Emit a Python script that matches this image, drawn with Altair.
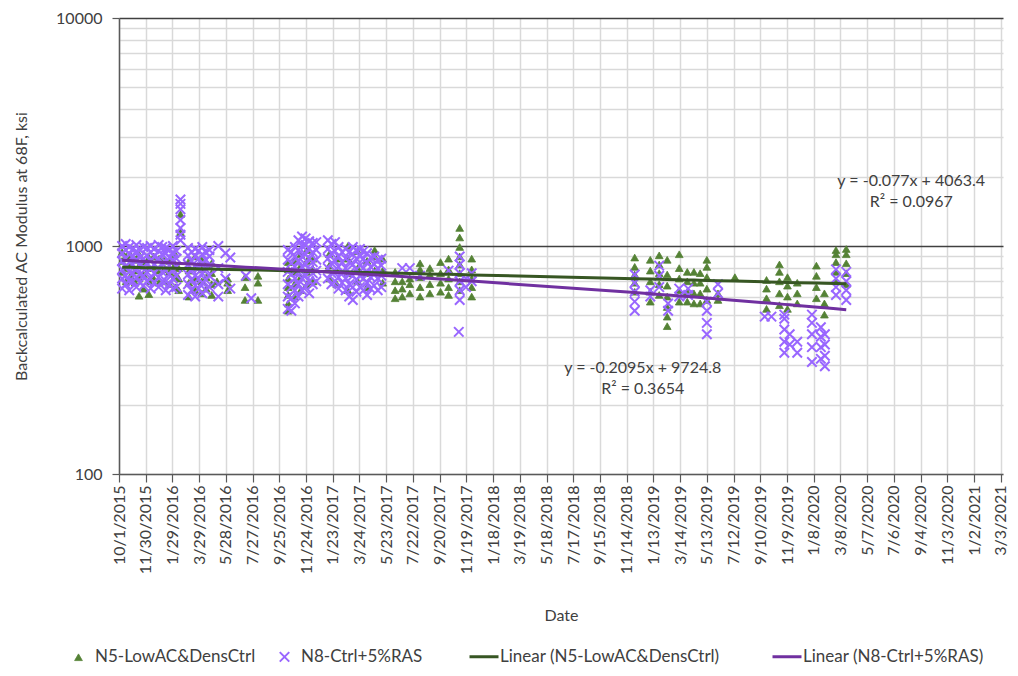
import altair as alt
import pandas as pd
from datetime import date, datetime

# ---------------- data ----------------
N5_NAME = "N5-LowAC&DensCtrl"
N8_NAME = "N8-Ctrl+5%RAS"
T5_NAME = "Linear (N5-LowAC&DensCtrl)"
T8_NAME = "Linear (N8-Ctrl+5%RAS)"

N5_DATES = [
    "2015-10-08", "2015-10-17", "2015-10-27", "2015-11-06", "2015-11-15", "2015-11-25",
    "2015-12-07", "2015-12-18", "2015-12-30", "2016-01-11", "2016-01-22", "2016-02-04",
    "2016-02-12", "2016-02-16", "2016-03-06", "2016-03-20", "2016-04-04", "2016-04-14",
    "2016-04-26", "2016-05-08", "2016-06-01", "2016-07-10", "2016-08-08",
    "2016-10-15", "2016-10-29", "2016-11-12", "2016-11-26", "2016-12-10",
    "2017-01-15", "2017-02-01", "2017-02-26", "2017-03-20", "2017-04-10", "2017-04-27",
    "2017-05-15", "2017-06-12", "2017-06-28", "2017-07-15", "2017-08-07", "2017-08-29",
    "2017-09-22", "2017-10-10", "2017-11-04", "2017-12-01",
    "2018-12-02", "2019-01-06", "2019-01-26", "2019-02-13", "2019-03-12", "2019-03-30",
    "2019-04-14", "2019-04-28", "2019-05-13", "2019-06-07", "2019-07-15",
    "2019-09-24", "2019-10-23", "2019-11-10", "2019-12-02", "2020-01-14", "2020-02-01",
    "2020-02-27", "2020-03-21",
]
N5_VALUES = [
    [770, 860, 940], [700, 800, 900], [740, 830, 910], [690, 780, 870], [605, 720, 820, 920],
    [650, 750, 850], [615, 700, 800, 890], [720, 810, 900], [690, 780, 880], [700, 790, 870],
    [680, 770, 860], [660, 740, 830, 920], [640, 720, 800], [1150, 1380],
    [600, 690, 780, 860], [640, 720, 810, 900], [620, 700, 790, 870], [650, 730, 820],
    [610, 680, 760, 840], [700], [640, 690, 720], [580, 660, 730], [580, 690, 740],
    [520, 560, 610, 660, 720, 790, 850], [600, 680, 770, 860], [640, 730, 820, 920],
    [680, 770, 860, 960], [700, 790, 880],
    [720, 820, 920], [680, 780, 880], [640, 760, 880, 1000], [700, 800, 950], [660, 760, 860],
    [780, 900, 960], [690, 780, 880], [590, 640, 700, 770], [600, 650, 700], [620, 680, 720],
    [600, 660, 730, 790, 840], [620, 680, 750, 800], [630, 690, 760, 850],
    [610, 660, 720, 790, 880], [640, 700, 760, 830, 900, 990, 1090, 1200],
    [600, 660, 720, 790, 880],
    [630, 690, 750, 810, 890], [570, 630, 700, 780, 870], [610, 680, 760, 830, 910],
    [445, 490, 540, 600, 670, 750, 870], [570, 640, 720, 800, 920], [570, 630, 700, 770],
    [560, 620, 690, 770], [560, 620, 690, 760], [580, 650, 730, 810, 870], [580, 620], [730],
    [530, 590, 650, 710], [550, 620, 700, 770, 830], [530, 600, 670, 730], [560, 620, 690],
    [590, 660, 740, 820], [500, 560, 620], [700, 770, 850, 920, 960], [680, 760, 840, 920, 970],
]

N8_DATES = [
    "2015-10-08", "2015-10-16", "2015-10-24", "2015-11-01", "2015-11-09", "2015-11-17",
    "2015-11-25", "2015-12-03", "2015-12-11", "2015-12-19", "2015-12-29", "2016-01-06",
    "2016-01-14", "2016-01-22", "2016-01-30", "2016-02-07", "2016-02-16",
    "2016-03-04", "2016-03-12", "2016-03-20", "2016-03-28", "2016-04-05", "2016-04-13",
    "2016-04-21", "2016-05-11", "2016-05-27", "2016-06-07", "2016-07-12", "2016-07-24",
    "2016-10-14", "2016-10-22", "2016-10-30", "2016-11-07", "2016-11-15", "2016-11-23",
    "2016-12-01", "2016-12-09", "2016-12-17",
    "2017-01-12", "2017-01-20", "2017-01-28", "2017-02-05", "2017-02-13", "2017-02-21",
    "2017-03-01", "2017-03-09", "2017-03-17", "2017-03-25", "2017-04-02", "2017-04-10",
    "2017-04-18", "2017-04-26", "2017-05-04", "2017-05-12",
    "2017-06-28", "2017-07-15", "2017-08-07", "2017-10-10", "2017-11-02", "2017-11-04",
    "2017-11-18", "2017-12-01",
    "2018-12-02", "2019-01-06", "2019-01-26", "2019-02-15", "2019-03-12", "2019-04-01",
    "2019-05-13", "2019-06-07", "2019-09-20", "2019-10-05", "2019-11-03", "2019-11-15",
    "2019-12-02", "2020-01-04", "2020-01-24", "2020-02-02", "2020-02-27", "2020-03-21",
]
N8_VALUES = [
    [650, 720, 790, 860, 930, 1000], [680, 740, 810, 880, 960, 1020], [640, 700, 770, 850, 920, 990],
    [700, 760, 830, 900, 970], [660, 730, 800, 870, 950, 1010], [690, 750, 820, 890, 960],
    [670, 740, 810, 880, 990], [700, 770, 840, 910, 980], [650, 720, 790, 860, 940, 1000],
    [690, 760, 830, 900, 970], [660, 730, 800, 880, 950, 1010], [700, 770, 840, 920, 990],
    [640, 700, 780, 850, 930, 980], [680, 750, 820, 890, 960], [650, 720, 790, 870, 940, 1000],
    [660, 740, 810, 880, 950], [1060, 1120, 1200, 1300, 1450, 1530, 1600],
    [610, 680, 750, 830, 910, 980], [640, 710, 790, 860, 940], [600, 670, 740, 820, 900, 970],
    [650, 720, 800, 880, 950], [620, 690, 760, 840, 920, 990], [640, 710, 790, 870, 940],
    [660, 740, 820, 900, 960], [600, 680, 800, 1000], [720, 930], [650, 890], [740], [590],
    [530, 600, 680, 770, 870, 960], [520, 590, 660, 750, 840, 940], [560, 640, 720, 810, 900, 990],
    [600, 680, 770, 860, 960, 1060], [640, 720, 810, 900, 1000, 1100], [660, 740, 830, 920, 1010, 1080],
    [620, 700, 790, 880, 970, 1050], [680, 760, 850, 940, 1030], [700, 780, 870, 960, 1040],
    [720, 800, 880, 970, 1060], [680, 760, 840, 930, 1020], [700, 780, 860, 950, 1040],
    [650, 730, 810, 900, 990], [690, 770, 850, 940], [640, 720, 800, 880, 970],
    [600, 680, 760, 850, 940], [580, 660, 740, 830, 920, 990], [630, 710, 790, 880, 960],
    [660, 740, 820, 900, 970], [640, 720, 800, 880, 950], [610, 690, 770, 850, 930],
    [650, 730, 810, 890], [670, 750, 830, 900], [640, 720, 800, 870], [660, 740, 820, 880],
    [800], [800], [740], [780], [420], [580, 640, 700, 760, 830, 900], [660, 720], [700, 760],
    [520, 570, 630, 690, 750], [600, 640], [660, 740, 820], [520, 560], [600, 650], [610, 650],
    [410, 460, 520, 570], [620, 680], [490], [490], [340, 380, 430, 480, 500], [370, 410],
    [340, 380], [310, 360, 410, 460, 500], [320, 360, 400, 440], [297, 330, 370, 410],
    [610, 660, 720, 790], [580, 640, 700, 770],
]

# trendline equations shown on the chart (x = Excel serial date)
TREND_SLOPES = [-0.077, -0.2095]
TREND_INTERCEPTS = [4063.4, 9724.8]

TICK_LABELS = [
    "10/1/2015", "11/30/2015", "1/29/2016", "3/29/2016", "5/28/2016", "7/27/2016",
    "9/25/2016", "11/24/2016", "1/23/2017", "3/24/2017", "5/23/2017", "7/22/2017",
    "9/20/2017", "11/19/2017", "1/18/2018", "3/19/2018", "5/18/2018", "7/17/2018",
    "9/15/2018", "11/14/2018", "1/13/2019", "3/14/2019", "5/13/2019", "7/12/2019",
    "9/10/2019", "11/9/2019", "1/8/2020", "3/8/2020", "5/7/2020", "7/6/2020",
    "9/4/2020", "11/3/2020", "1/2/2021", "3/3/2021",
]
Y_GRID = [100, 200, 300, 400, 500, 600, 700, 800, 900,
          1000, 2000, 3000, 4000, 5000, 6000, 7000, 8000, 9000, 10000]

ANN_TEXT = ["y = -0.077x + 4063.4", "R\u00b2 = 0.0967", "y = -0.2095x + 9724.8", "R\u00b2 = 0.3654"]
ANN_DATE = ["2020-08-14", "2020-08-14", "2018-12-20", "2018-12-20"]
ANN_VALUE = [1937, 1553, 292, 237]

# ---------------- helpers ----------------
EPOCH = date(1899, 12, 30)


def serial_iso(s):
    y, m, d = map(int, s.split("-"))
    return (date(y, m, d) - EPOCH).days


def serial_mdy(s):
    return (datetime.strptime(s, "%m/%d/%Y").date() - EPOCH).days


C5, C8, CT5, CT8 = "#548235", "#9966ff", "#375623", "#7030a0"
PDOM = [N5_NAME, N8_NAME]
TDOM = [T5_NAME, T8_NAME]
XPATH = "M-1,-1L1,1M1,-1L-1,1"
LINEPATH = "M-3.75,0L3.5,0"
FONT = "Lato"
TXT = "#404040"
LEG_Y = 630

rows = [{"x": serial_iso(d), "v": v, "series": N5_NAME}
        for d, vals in zip(N5_DATES, N5_VALUES) for v in vals]
rows += [{"x": serial_iso(d), "v": v, "series": N8_NAME}
         for d, vals in zip(N8_DATES, N8_VALUES) for v in vals]
dfp = pd.DataFrame(rows)

trend_rows = []
for name, dates, a, b in [(T5_NAME, N5_DATES, TREND_SLOPES[0], TREND_INTERCEPTS[0]),
                          (T8_NAME, N8_DATES, TREND_SLOPES[1], TREND_INTERCEPTS[1])]:
    xs = sorted(set(serial_iso(d) for d in dates))
    for x in xs:
        trend_rows.append({"x": x, "v": a * x + b, "series": name})
dft = pd.DataFrame(trend_rows)

dfa = pd.DataFrame({"x": [serial_iso(d) for d in ANN_DATE], "v": ANN_VALUE, "t": ANN_TEXT})

tick_vals = [serial_mdy(s) for s in TICK_LABELS]
x_domain = [tick_vals[0], tick_vals[-1] + 5]


def pleg():
    return alt.Legend(
        title=None, orient="none", legendX=-49, legendY=LEG_Y, direction="horizontal",
        columns=2, columnPadding=19, labelFont=FONT, labelFontSize=17, labelColor=TXT,
        labelOffset=8, labelLimit=400, symbolOpacity=1,
    )


def oscale(rng):
    return alt.Scale(type="ordinal", domain=PDOM, range=rng)


fill_enc = alt.Fill("series:N", scale=alt.Scale(domain=PDOM, range=[C5, "transparent"]), legend=pleg())
stroke_enc = alt.Stroke("series:N", scale=alt.Scale(domain=PDOM, range=[C5, C8]), legend=pleg())
shape_enc = alt.Shape("series:N", scale=alt.Scale(domain=PDOM, range=["triangle-up", XPATH]), legend=pleg())
size_enc = alt.Size("series:N", scale=oscale([60, 90]), legend=pleg())
sw_enc = alt.StrokeWidth("series:N", scale=oscale([0.8, 2]), legend=pleg())

tcolor_enc = alt.Color(
    "series:N", scale=alt.Scale(domain=TDOM, range=[CT5, CT8]),
    legend=alt.Legend(
        title=None, orient="none", legendX=357, legendY=LEG_Y, direction="horizontal",
        columns=2, columnPadding=46, labelFont=FONT, labelFontSize=17, labelColor=TXT,
        labelOffset=7, labelLimit=400, symbolType=LINEPATH, symbolSize=64,
        symbolStrokeWidth=3, symbolOpacity=1,
    ),
)

major = "datum.value === 1000 || datum.value === 10000"
x_enc = alt.X(
    "x:Q", scale=alt.Scale(domain=x_domain, nice=False, zero=False),
    axis=alt.Axis(
        values=tick_vals, labelExpr="utcFormat((datum.value - 25569) * 86400000, '%-m/%-d/%Y')",
        labelAngle=270, labelAlign="right", labelBaseline="middle", labelPadding=3,
        labelFont=FONT, labelFontSize=16, labelColor=TXT, labelOverlap=False, labelFlush=False,
        labelSeparation=0,
        tickSize=8, tickColor="#595959", tickWidth=1.2, domainColor="#595959", domainWidth=1.5,
        grid=True, gridColor="#d9d9d9", gridWidth=1.5,
        title="Date", titleFont=FONT, titleFontSize=16, titleFontWeight="normal",
        titleColor=TXT, titleY=133, titleBaseline="top",
    ),
)
y_enc = alt.Y(
    "v:Q", scale=alt.Scale(type="log", domain=[100, 10000], nice=False),
    axis=alt.Axis(
        values=Y_GRID,
        labelExpr="(datum.value === 100 || datum.value === 1000 || datum.value === 10000) ? format(datum.value, 'd') : ''",
        labelFont=FONT, labelFontSize=16, labelColor=TXT, labelPadding=10, labelOverlap=False,
        tickSize={"condition": {"test": "datum.value === 100 || " + major, "value": 7}, "value": 0},
        tickColor="#595959", tickWidth=1.2, domainColor="#595959", domainWidth=1.5,
        grid=True,
        gridColor={"condition": {"test": major, "value": "#404040"}, "value": "#d9d9d9"},
        gridWidth=1.5,
        title="Backcalculated AC Modulus at 68F, ksi", titleFont=FONT, titleFontSize=16,
        titleFontWeight="normal", titleColor=TXT, titlePadding=26,
    ),
)

pts = alt.Chart(dfp).mark_point(opacity=1).encode(
    x=x_enc, y=y_enc, fill=fill_enc, stroke=stroke_enc, shape=shape_enc,
    size=size_enc, strokeWidth=sw_enc)
trend = alt.Chart(dft).mark_line(strokeWidth=3).encode(
    x=x_enc, y=y_enc, color=tcolor_enc, detail="series:N")
ann = alt.Chart(dfa).mark_text(font=FONT, fontSize=16, color=TXT, align="center",
                               baseline="middle").encode(x=x_enc, y=y_enc, text="t:N")

chart = alt.layer(pts, trend, ann).properties(
    width=884, height=456,
    autosize=alt.AutoSizeParams(type="none"),
    padding={"left": 111, "top": 10, "right": 7, "bottom": 194},
    background="white",
).configure_view(strokeWidth=0).configure_axis(labelOverlap=False)

chart.save("out.html", embed_options={"renderer": "svg", "actions": False})
